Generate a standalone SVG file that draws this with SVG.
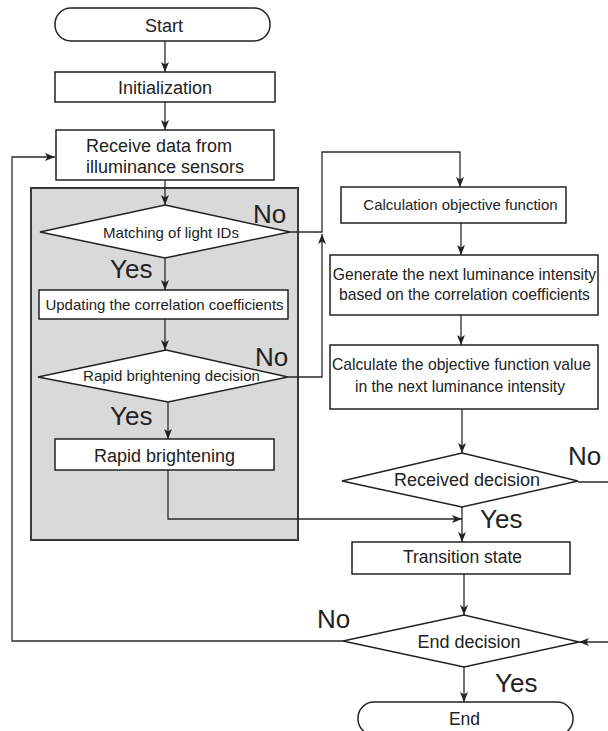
<svg xmlns="http://www.w3.org/2000/svg" width="608" height="731" viewBox="0 0 608 731">
<defs>
<marker id="ah" markerUnits="userSpaceOnUse" markerWidth="10" markerHeight="8" refX="10" refY="4" orient="auto">
<path d="M0,0 L10,4 L0,8 L2.5,4 z" fill="#222"/>
</marker>
<style>
.box{fill:#fff;stroke:#222;stroke-width:1.5}
.grp{fill:#d9d9da;stroke:#3a3a3a;stroke-width:2}
.t{font-family:"Liberation Sans",Arial,sans-serif;fill:#222;text-anchor:middle}
.lbl{font-family:"Liberation Sans",Arial,sans-serif;fill:#222;font-size:26px}
.c{fill:none;stroke:#2a2a2a;stroke-width:1.3}
</style>
</defs>
<rect width="608" height="731" fill="#fff"/>
<g id="group-box"><rect class="grp" x="31" y="188" width="267" height="352"/></g>

<g id="connectors">
<path class="c" d="M165,41 V72" marker-end="url(#ah)"/>
<path class="c" d="M165,102 V130" marker-end="url(#ah)"/>
<path class="c" d="M165,180 V205" marker-end="url(#ah)"/>
<path class="c" d="M165,258 V290" marker-end="url(#ah)"/>
<path class="c" d="M165,319 V350" marker-end="url(#ah)"/>
<path class="c" d="M168,402 V439" marker-end="url(#ah)"/>
<path class="c" d="M168,470 V519 H462" marker-end="url(#ah)"/>
<path class="c" d="M290,232 H322 V152 H460 V187" marker-end="url(#ah)"/>
<path class="c" d="M288,377 H322 V234" marker-end="url(#ah)"/>
<path class="c" d="M461,223 V255" marker-end="url(#ah)"/>
<path class="c" d="M461,315 V345" marker-end="url(#ah)"/>
<path class="c" d="M462,409 V453" marker-end="url(#ah)"/>
<path class="c" d="M462,507 V542" marker-end="url(#ah)"/>
<path class="c" d="M464,574 V615" marker-end="url(#ah)"/>
<path class="c" d="M464,667 V702" marker-end="url(#ah)"/>
<path class="c" d="M343,641 H12 V157 H55" marker-end="url(#ah)"/>
<path class="c" d="M578,482 H614 V642 H579" marker-end="url(#ah)"/>
</g>

<g id="start"><rect class="box" x="55" y="8" width="215" height="33" rx="16"/><text class="t" x="164" y="32" font-size="18">Start</text></g>
<g id="init"><rect class="box" x="55" y="72" width="220" height="30"/><text class="t" x="165" y="94" font-size="18">Initialization</text></g>
<g id="receive"><rect class="box" x="56" y="130" width="218" height="50"/><text class="t" x="86" y="152" font-size="18" style="text-anchor:start">Receive data from</text><text class="t" x="86" y="173" font-size="18" style="text-anchor:start">illuminance sensors</text></g>
<g id="matching"><polygon class="box" points="165,205 290,232 165,258 40,232"/><text class="t" x="171" y="238" font-size="15">Matching of light IDs</text></g>
<g id="updating"><rect class="box" x="39" y="290" width="249" height="29"/><text class="t" x="164.5" y="310" font-size="15">Updating the correlation coefficients</text></g>
<g id="rapid-decision"><polygon class="box" points="166,350 288,377 168,402 38,377"/><text class="t" x="171.5" y="381" font-size="15">Rapid brightening decision</text></g>
<g id="rapid"><rect class="box" x="55" y="439" width="219" height="31"/><text class="t" x="164.5" y="462" font-size="18">Rapid brightening</text></g>
<g id="calc-obj"><rect class="box" x="341" y="187" width="225" height="36"/><text class="t" x="460.5" y="210" font-size="15">Calculation objective function</text></g>
<g id="generate"><rect class="box" x="330" y="255" width="268" height="60"/><text class="t" x="464.5" y="280" font-size="15.7">Generate the next luminance intensity</text><text class="t" x="464.5" y="300" font-size="15.7">based on the correlation coefficients</text></g>
<g id="calc-value"><rect class="box" x="330" y="345" width="268" height="64"/><text class="t" x="461.5" y="370" font-size="15.7">Calculate the objective function value</text><text class="t" x="460" y="392" font-size="15.7">in the next luminance intensity</text></g>
<g id="received"><polygon class="box" points="462,453 578,481 462,507 342,481"/><text class="t" x="467" y="486" font-size="18">Received decision</text></g>
<g id="transition"><rect class="box" x="352" y="542" width="218" height="32"/><text class="t" x="462.5" y="563" font-size="17.5">Transition state</text></g>
<g id="end-decision"><polygon class="box" points="464,615 579,642 464,667 343,641"/><text class="t" x="469" y="648" font-size="18">End decision</text></g>
<g id="end"><rect class="box" x="358" y="702" width="215" height="33" rx="16"/><text class="t" x="464.5" y="725" font-size="17.5">End</text></g>

<g id="labels">
<text class="lbl" x="253" y="223">No</text>
<text class="lbl" x="110" y="278">Yes</text>
<text class="lbl" x="255" y="366">No</text>
<text class="lbl" x="110" y="425">Yes</text>
<text class="lbl" x="568" y="465">No</text>
<text class="lbl" x="480" y="528">Yes</text>
<text class="lbl" x="317" y="628">No</text>
<text class="lbl" x="495" y="692">Yes</text>
</g>
</svg>
